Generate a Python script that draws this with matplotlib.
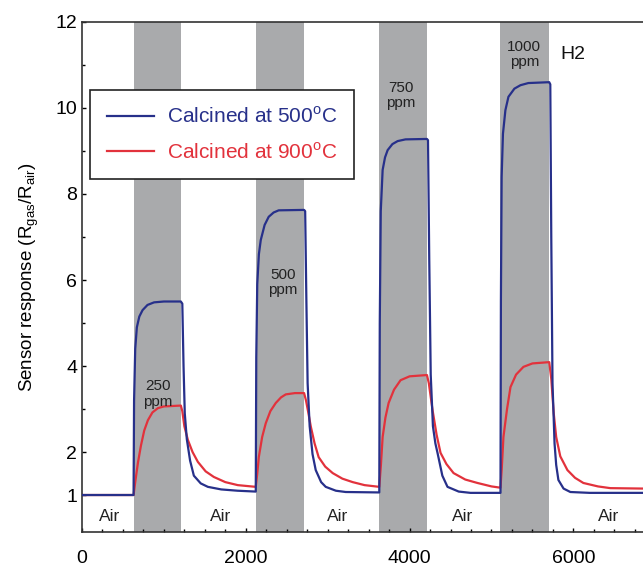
import matplotlib.pyplot as plt

plt.rcParams['font.family'] = ['Liberation Sans', 'DejaVu Sans']
plt.rcParams['mathtext.fontset'] = 'custom'
plt.rcParams['mathtext.rm'] = 'Liberation Sans'

# H2 exposure windows (s)
gas_on = [630, 2122, 3630, 5110]
gas_off = [1207, 2712, 4212, 5705]
conc_labels = ['250\nppm', '500\nppm', '750\nppm', '1000\nppm']
conc_x = [925, 2450, 3890, 5400]
conc_y = [3.35, 5.95, 10.3, 11.25]
air_x = [341, 1695, 3122, 4646, 6427]

# Calcined at 500 C
t_500 = [0, 630, 636, 650, 670, 700, 740, 800, 880, 1000, 1207,
         1225, 1240, 1255, 1280, 1320, 1366, 1450, 1537, 1700, 1900, 2122,
         2128, 2140, 2160, 2183, 2230, 2280, 2340, 2402, 2712,
         2725, 2740, 2755, 2780, 2815, 2854, 2920, 2976, 3100, 3220, 3630,
         3636, 3648, 3671, 3700, 3732, 3790, 3854, 3950, 4212,
         4225, 4240, 4258, 4285, 4315, 4341, 4400, 4463, 4600, 4744, 5110,
         5115, 5124, 5140, 5170, 5207, 5280, 5354, 5450, 5705,
         5718, 5730, 5745, 5770, 5790, 5817, 5880, 5963, 6200, 6850]
y_500 = [1.0, 1.0, 3.2, 4.4, 4.9, 5.15, 5.3, 5.42, 5.48, 5.5, 5.5,
         5.45, 4.0, 2.9, 2.3, 1.8, 1.45, 1.27, 1.19, 1.13, 1.1, 1.08,
         4.2, 5.9, 6.6, 6.93, 7.28, 7.47, 7.57, 7.62, 7.63,
         7.6, 5.5, 3.6, 2.6, 1.95, 1.58, 1.3, 1.19, 1.1, 1.07, 1.06,
         5.0, 7.6, 8.56, 8.85, 9.02, 9.16, 9.23, 9.27, 9.28,
         9.25, 6.5, 3.8, 2.6, 2.2, 1.98, 1.45, 1.19, 1.08, 1.05, 1.05,
         5.5, 8.4, 9.4, 9.95, 10.26, 10.45, 10.53, 10.58, 10.6,
         10.55, 7.0, 3.6, 2.2, 1.7, 1.35, 1.15, 1.07, 1.05, 1.05]

# Calcined at 900 C
t_900 = [0, 630, 650, 683, 720, 760, 805, 860, 927, 1000, 1207,
         1225, 1250, 1293, 1350, 1415, 1510, 1610, 1750, 1902, 2122,
         2140, 2159, 2200, 2244, 2300, 2366, 2430, 2488, 2600, 2712,
         2735, 2765, 2793, 2840, 2890, 2970, 3061, 3180, 3305, 3450, 3630,
         3650, 3671, 3705, 3744, 3810, 3890, 4000, 4212,
         4235, 4280, 4330, 4378, 4450, 4537, 4680, 4829, 5000, 5110,
         5125, 5146, 5190, 5232, 5300, 5390, 5500, 5705,
         5730, 5760, 5790, 5840, 5927, 6020, 6122, 6300, 6451, 6850]
y_900 = [1.0, 1.0, 1.3, 1.75, 2.15, 2.5, 2.74, 2.92, 3.02, 3.06, 3.08,
         2.95, 2.6, 2.28, 2.0, 1.77, 1.55, 1.42, 1.3, 1.23, 1.19,
         1.5, 1.88, 2.35, 2.67, 2.95, 3.14, 3.27, 3.34, 3.37, 3.37,
         3.2, 2.9, 2.6, 2.2, 1.88, 1.66, 1.51, 1.38, 1.3, 1.23, 1.19,
         1.7, 2.35, 2.8, 3.14, 3.45, 3.67, 3.76, 3.79,
         3.6, 2.98, 2.4, 1.98, 1.72, 1.51, 1.36, 1.28, 1.2, 1.17,
         1.6, 2.35, 3.0, 3.51, 3.8, 3.98, 4.06, 4.09,
         3.7, 2.9, 2.35, 1.9, 1.58, 1.4, 1.28, 1.2, 1.16, 1.15]

fig = plt.figure(figsize=(6.43, 5.71), dpi=100)
ax = fig.add_axes([0.1275, 0.0683, 0.8725, 0.8932])

for a, b in zip(gas_on, gas_off):
    ax.axvspan(a, b, color='#a9aaac', lw=0, zorder=0)

ax.plot(t_500, y_500, color='#27308a', lw=1.6, label='Calcined at 500$^{\\rm o}$C', zorder=3)
ax.plot(t_900, y_900, color='#e2323c', lw=1.6, label='Calcined at 900$^{\\rm o}$C', zorder=2)

for x, y, s in zip(conc_x, conc_y, conc_labels):
    ax.text(x, y, s, ha='center', va='center', fontsize=11, linespacing=1.1, color='#222222')
for x in air_x:
    ax.text(x, 0.5, 'Air', ha='center', va='center', fontsize=12.5, color='#222222')
ax.text(5990, 11.25, 'H2', ha='center', va='center', fontsize=14, color='#111111')

ax.set_xlim(0, 6850)
ax.set_ylim(0.14, 12)
ax.set_xticks([0, 2000, 4000, 6000])
ax.set_xticks(range(0, 6851, 250), minor=True)
ax.set_yticks([1, 2, 4, 6, 8, 10, 12])
ax.set_yticks(range(1, 13), minor=True)
ax.tick_params(which='both', direction='in', labelsize=14, length=3, width=1)
ax.tick_params(which='minor', length=2)
ax.tick_params(axis='x', pad=13)
ax.spines['right'].set_visible(False)
for s in ['left', 'bottom', 'top']:
    ax.spines[s].set_linewidth(1.2)
    ax.spines[s].set_color('#333333')

ax.set_ylabel('Sensor response (R$_{\\rm gas}$/R$_{\\rm air}$)', fontsize=13.5, labelpad=10)

leg = ax.legend(loc='upper left', bbox_to_anchor=(0.014, 0.867), borderaxespad=0,
                fontsize=15, fancybox=False, framealpha=1, edgecolor='#222222',
                handlelength=2.3, handletextpad=0.6, borderpad=0.8,
                labelspacing=0.7, labelcolor=['#27308a', '#e2323c'])
leg.get_frame().set_linewidth(1.2)

fig.savefig('out.png', dpi=100)
